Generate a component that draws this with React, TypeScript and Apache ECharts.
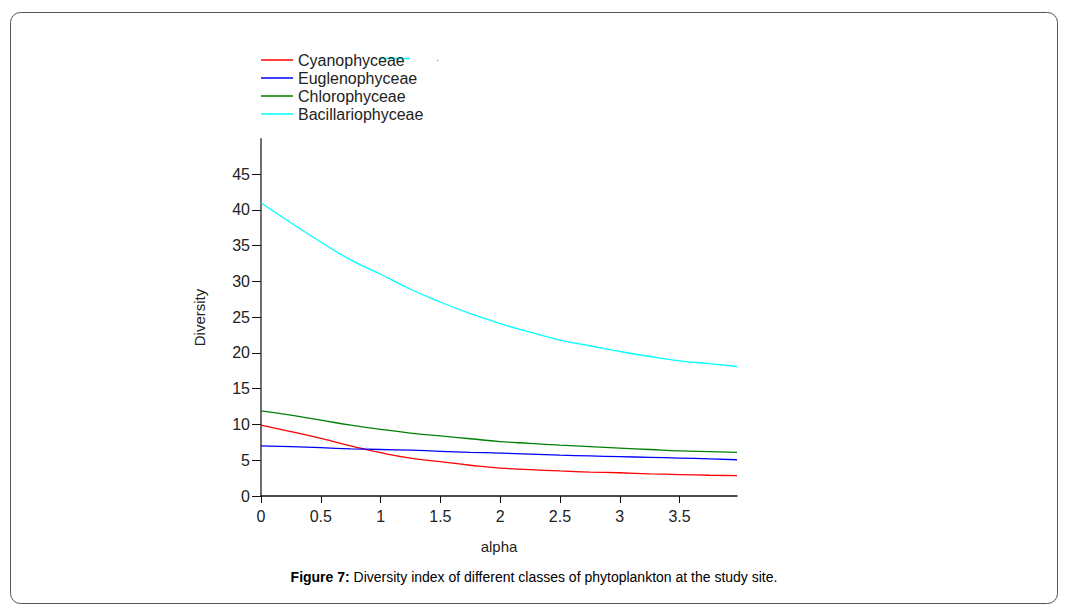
import React, { useEffect, useRef } from "react";
import * as echarts from "echarts";

const alpha = [0, 0.25, 0.5, 0.75, 1, 1.25, 1.5, 1.75, 2, 2.25, 2.5, 2.75, 3, 3.25, 3.5, 3.75, 3.98];
const cyanophyceae = [9.9, 9.0, 8.05, 7.0, 6.05, 5.3, 4.8, 4.3, 3.9, 3.7, 3.5, 3.35, 3.25, 3.1, 3.0, 2.9, 2.85];
const euglenophyceae = [7.0, 6.9, 6.75, 6.6, 6.5, 6.4, 6.25, 6.1, 6.0, 5.85, 5.7, 5.6, 5.5, 5.4, 5.3, 5.2, 5.07];
const chlorophyceae = [11.9, 11.3, 10.6, 9.9, 9.3, 8.8, 8.4, 8.0, 7.6, 7.35, 7.1, 6.9, 6.7, 6.5, 6.3, 6.2, 6.1];
const bacillariophyceae = [41.0, 38.2, 35.5, 33.0, 31.0, 28.9, 27.1, 25.5, 24.1, 22.9, 21.8, 21.0, 20.2, 19.5, 18.9, 18.5, 18.1];

const seriesNames = ["Cyanophyceae", "Euglenophyceae", "Chlorophyceae", "Bacillariophyceae"];
const seriesColors = ["#ff0000", "#0000ff", "#008000", "#00ffff"];
const seriesValues = [cyanophyceae, euglenophyceae, chlorophyceae, bacillariophyceae];

const FONT = "Liberation Sans, Arial, sans-serif";

export default function App() {
  const ref = useRef<HTMLDivElement>(null);
  useEffect(() => {
    if (!ref.current) return;
    const chart = echarts.init(ref.current, null, { renderer: "svg" });
    chart.setOption({
      animation: false,
      textStyle: { fontFamily: FONT },
      legend: {
        orient: "vertical",
        left: 261,
        top: 52,
        padding: 0,
        icon: "rect",
        itemWidth: 32,
        itemHeight: 1.5,
        itemGap: 2,
        textStyle: { fontSize: 16, color: "#222", lineHeight: 16, fontFamily: FONT },
        data: seriesNames,
      },
      grid: { left: 261, right: 332, top: 139, bottom: 114, containLabel: false },
      xAxis: {
        type: "value",
        min: 0,
        max: 3.98,
        interval: 0.5,
        name: "alpha",
        nameLocation: "middle",
        nameGap: 43,
        nameTextStyle: { fontSize: 15, color: "#222", fontFamily: FONT },
        axisLine: { lineStyle: { color: "#111", width: 1.5 } },
        axisTick: { length: 7, lineStyle: { color: "#111" } },
        axisLabel: { fontSize: 16, color: "#222", margin: 12, showMaxLabel: false, fontFamily: FONT },
        splitLine: { show: false },
      },
      yAxis: {
        type: "value",
        min: 0,
        max: 49.9,
        interval: 5,
        name: "Diversity",
        nameLocation: "middle",
        nameGap: 54,
        nameRotate: 90,
        nameTextStyle: { fontSize: 15, color: "#222", fontFamily: FONT },
        axisLine: { show: true, lineStyle: { color: "#6e6e6e", width: 2 } },
        axisTick: { show: true, length: 9, lineStyle: { color: "#111" } },
        axisLabel: { fontSize: 16, color: "#222", margin: 11, showMaxLabel: false, fontFamily: FONT },
        splitLine: { show: false },
      },
      series: seriesNames.map((name, i) => ({
        name,
        type: "line",
        smooth: true,
        showSymbol: false,
        symbol: "none",
        color: seriesColors[i],
        lineStyle: { width: 1.3, color: seriesColors[i] },
        data: alpha.map((a, j) => [a, seriesValues[i][j]]),
      })),
      graphic: [
        {
          type: "rect",
          shape: { x: 10.5, y: 12.5, width: 1047, height: 591, r: 10 },
          style: { fill: "none", stroke: "#555", lineWidth: 1 },
          silent: true,
        },
        {
          type: "line",
          shape: { x1: 379, y1: 58.5, x2: 410, y2: 58.5 },
          style: { stroke: "#00ffff", lineWidth: 1.5 },
          silent: true,
        },
        {
          type: "circle",
          shape: { cx: 437.5, cy: 60.5, r: 0.7 },
          style: { fill: "#999" },
          silent: true,
        },
        {
          type: "text",
          x: 534,
          y: 577,
          style: {
            text: "{b|Figure 7:} Diversity index of different classes of phytoplankton at the study site.",
            align: "center",
            verticalAlign: "middle",
            fontSize: 14,
            fill: "#000",
            fontFamily: FONT,
            rich: {
              b: { fontWeight: "bold", fontSize: 14, fill: "#000", fontFamily: FONT },
            },
          },
        },
      ],
    });
    return () => chart.dispose();
  }, []);
  return (
    <div
      ref={ref}
      style={{ position: "fixed", left: 0, top: 0, width: 1069, height: 610, background: "#fff" }}
    />
  );
}
